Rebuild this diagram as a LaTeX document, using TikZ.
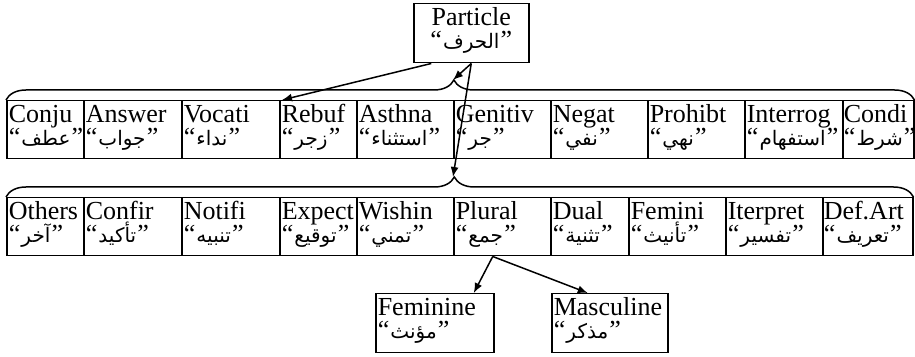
\documentclass[tikz,border=0pt]{standalone}
\usepackage{fontspec}
\setmainfont{Liberation Serif}
\newfontfamily\arabicfont[Script=Arabic]{DejaVu Sans}
\TeXXeTstate=1
\usetikzlibrary{arrows.meta,decorations.pathreplacing}

% arabic word between quotes
\newcommand{\arlabel}[1]{“\kern0.6pt{\arabicfont\fontsize{10}{10}\selectfont\beginR #1\endR}\kern0.6pt”}
% english word over its arabic name
\newcommand{\celltext}[2]{#1\\\arlabel{#2}}

\tikzset{
  cell/.style={draw, anchor=north west, text width=#1, text height=11pt, text depth=18pt,
    inner xsep=1pt, inner ysep=0pt, align=left, font=\fontsize{13}{11.5}\selectfont},
  grp/.style={decorate, decoration={brace, amplitude=10pt, aspect=#1}},
}

\begin{document}
\begin{tikzpicture}[x=0.5pt,y=-0.5pt,line width=0.75pt,>={Latex[length=5pt,width=4pt]}]

\useasboundingbox (0,0) rectangle (915,357);

\node [cell=55.5pt,align=center,text depth=18.5pt] (particle) at (413,3) {\celltext{Particle}{الحرف}};

% first row
\node [cell=36.5pt] (conju) at (6,100) {\celltext{Conju}{عطف}};
\node [cell=47pt] (answer) at (83,100) {\celltext{Answer}{جواب}};
\node [cell=47pt] (vocati) at (181,100) {\celltext{Vocati}{نداء}};
\node [cell=36.5pt] (rebuf) at (279,100) {\celltext{Rebuf}{زجر}};
\node [cell=46.5pt] (asthna) at (356,100) {\celltext{Asthna}{استثناء}};
\node [cell=46.5pt] (genitiv) at (453,100) {\celltext{Genitiv}{جر}};
\node [cell=46.5pt] (negat) at (550,100) {\celltext{Negat}{نفي}};
\node [cell=46.5pt] (prohibt) at (647,100) {\celltext{Prohibt}{نهي}};
\node [cell=47pt] (interrog) at (744,100) {\celltext{Interrog}{استفهام}};
\node [cell=34.5pt,inner xsep=0.5pt] (condi) at (842,100) {\celltext{Condi}{شرط}};

% second row
\node [cell=36.5pt] (others) at (6,197) {\celltext{Others}{آخر}};
\node [cell=47pt] (confir) at (83,197) {\celltext{Confir}{تأكيد}};
\node [cell=47pt] (notifi) at (181,197) {\celltext{Notifi}{تنبيه}};
\node [cell=36.5pt] (expect) at (279,197) {\celltext{Expect}{توقيع}};
\node [cell=46.5pt] (wishin) at (356,197) {\celltext{Wishin}{تمني}};
\node [cell=46.5pt] (plural) at (453,197) {\celltext{Plural}{جمع}};
\node [cell=37pt] (dual) at (550,197) {\celltext{Dual}{تثنية}};
\node [cell=46.5pt] (femini) at (628,197) {\celltext{Femini}{تأنيث}};
\node [cell=46.5pt] (iterpret) at (725,197) {\celltext{Iterpret}{تفسير}};
\node [cell=44pt,inner xsep=0.5pt] (defart) at (822,197) {\celltext{Def.Art}{تعريف}};

% plural split
\node [cell=57pt,text depth=18.5pt] (feminine) at (375,293) {\celltext{Feminine}{مؤنث}};
\node [cell=56pt,text depth=18.5pt] (masculine) at (551,293) {\celltext{Masculine}{مذكر}};

% braces over the rows
\draw [grp=0.493] (conju.north west) -- (condi.north east);
\draw [grp=0.494] (others.north west) -- (defart.north east);
\coordinate (tipA) at (453,80);
\coordinate (tipB) at (453,177);

\draw [->] ([xshift=-20pt]particle.south) -- ([xshift=1.5pt]rebuf.north west);
\draw [->] (particle.south) -- (tipA);
\draw [->] (particle.south) -- (tipB);

\draw [->] ([xshift=-4.75pt]plural.south) -- ([xshift=19.5pt]feminine.north);
\draw [->] ([xshift=-4.75pt]plural.south) -- ([xshift=-11pt]masculine.north);
\end{tikzpicture}
\end{document}
